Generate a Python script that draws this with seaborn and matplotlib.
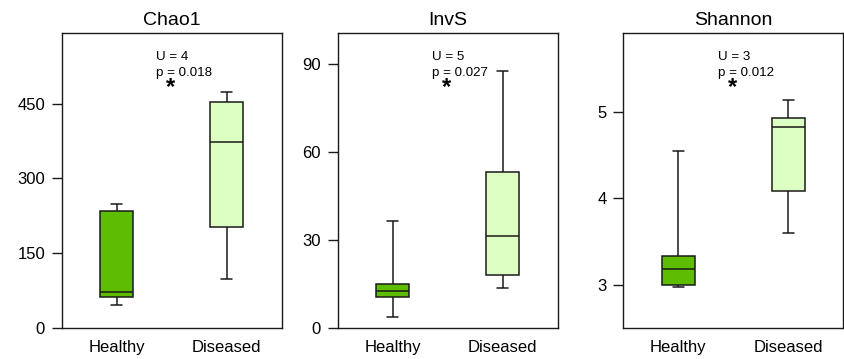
import matplotlib
matplotlib.use("Agg")
import matplotlib.pyplot as plt
import seaborn as sns
import pandas as pd

groups = ["Healthy", "Diseased"]
colors = ["#5ebd00", "#ddffc3"]

# five values per group -> quartiles land exactly on the 2nd/3rd/4th values
chao1_healthy = [45.6, 62.3, 72.3, 234.4, 248.5]
chao1_diseased = [98.4, 202.3, 373.7, 454.0, 472.9]
invs_healthy = [3.6, 10.4, 12.5, 14.8, 36.4]
invs_diseased = [13.5, 18.0, 31.3, 53.1, 87.5]
shannon_healthy = [2.98, 3.00, 3.18, 3.34, 4.55]
shannon_diseased = [3.60, 4.09, 4.83, 4.93, 5.14]

titles = ["Chao1", "InvS", "Shannon"]
u_values = [4, 5, 3]
p_values = ["0.018", "0.027", "0.012"]
ylims = [(0, 591), (0, 100.4), (2.506, 5.91)]
yticks = [[0, 150, 300, 450], [0, 30, 60, 90], [3, 4, 5]]

panels = [
    (chao1_healthy, chao1_diseased),
    (invs_healthy, invs_diseased),
    (shannon_healthy, shannon_diseased),
]

sns.set_theme(style="ticks")
plt.rcParams["font.family"] = ["Liberation Sans", "DejaVu Sans"]
plt.rcParams["text.color"] = "black"
plt.rcParams["xtick.color"] = "black"
plt.rcParams["ytick.color"] = "black"

fig = plt.figure(figsize=(8.45, 3.59), dpi=100)
lefts = [0.073, 0.3996, 0.7377]

for i, (healthy, diseased) in enumerate(panels):
    ax = fig.add_axes([lefts[i], 0.0872, 0.2604, 0.820])
    df = pd.DataFrame({
        "group": [groups[0]] * len(healthy) + [groups[1]] * len(diseased),
        "value": healthy + diseased,
    })
    sns.boxplot(data=df, x="group", y="value", hue="group", order=groups,
                hue_order=groups, palette=colors, saturation=1, legend=False,
                width=0.3, whis=(0, 100), linecolor="#1a1a1a", linewidth=1.1,
                capwidths=0.1, ax=ax)
    ax.set_xlim(-0.5, 1.5)
    ax.set_ylim(*ylims[i])
    ax.set_yticks(yticks[i])
    ax.set_xlabel("")
    ax.set_ylabel("")
    for s in ax.spines.values():
        s.set_visible(True)
        s.set_color("#1a1a1a")
        s.set_linewidth(1.0)
    ax.tick_params(axis="y", length=7, width=1.0, pad=5, labelsize=12,
                   color="#1a1a1a", labelcolor="black")
    ax.tick_params(axis="x", length=0, pad=9, labelsize=12,
                   labelcolor="black")
    ax.set_title(titles[i], fontsize=14, pad=6, color="black")
    ax.text(0.43, 0.92, f"U = {u_values[i]}", transform=ax.transAxes,
            ha="left", va="center", fontsize=9.6)
    ax.text(0.43, 0.866, f"p = {p_values[i]}", transform=ax.transAxes,
            ha="left", va="center", fontsize=9.6)
    ax.text(0.494, 0.815, "*", transform=ax.transAxes, ha="center",
            va="center", fontsize=17, fontweight="bold")

fig.savefig("out.png", dpi=100)
